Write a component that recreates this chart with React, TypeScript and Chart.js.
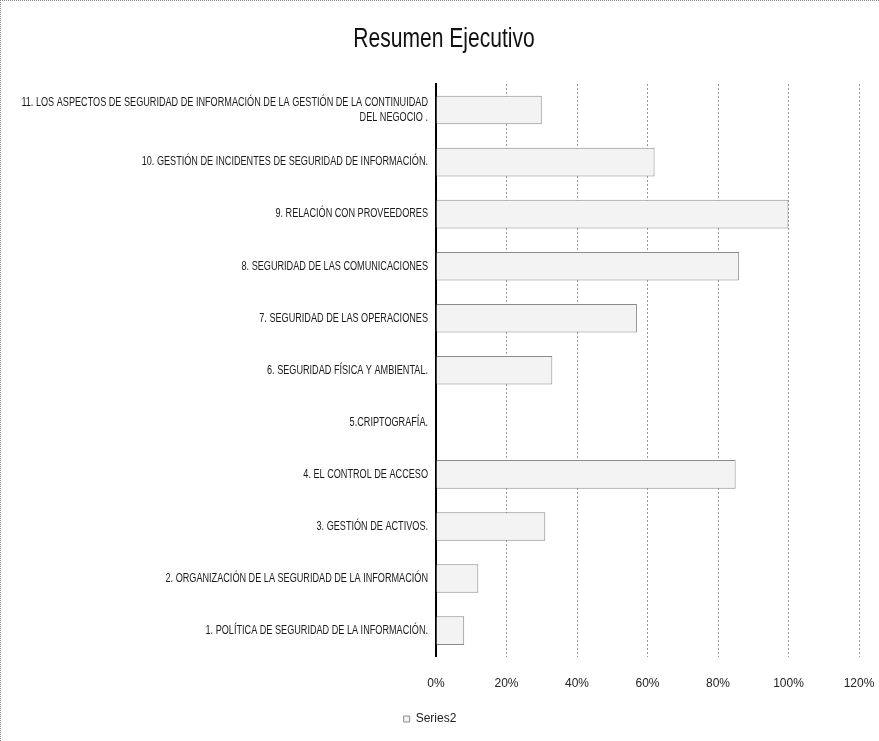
import React, { useEffect, useRef } from "react";
import { Chart, registerables } from "chart.js";

Chart.register(...registerables);

const categories: (string | string[])[] = [
  "1. POLÍTICA DE SEGURIDAD DE LA INFORMACIÓN.",
  "2. ORGANIZACIÓN DE LA SEGURIDAD DE LA INFORMACIÓN",
  "3. GESTIÓN DE ACTIVOS.",
  "4. EL CONTROL DE ACCESO",
  "5.CRIPTOGRAFÍA.",
  "6. SEGURIDAD FÍSICA Y AMBIENTAL.",
  "7. SEGURIDAD DE LAS OPERACIONES",
  "8. SEGURIDAD DE LAS COMUNICACIONES",
  "9. RELACIÓN CON PROVEEDORES",
  "10. GESTIÓN DE INCIDENTES DE SEGURIDAD DE INFORMACIÓN.",
  [
    "11. LOS ASPECTOS DE SEGURIDAD DE INFORMACIÓN DE LA GESTIÓN DE LA CONTINUIDAD",
    "DEL NEGOCIO .",
  ],
];

const series2: number[] = [8, 12, 31, 85, 0, 33, 57, 86, 100, 62, 30];

const xTicks: number[] = [0, 20, 40, 60, 80, 100, 120];

const seriesName = "Series2";
const titleText = "Resumen Ejecutivo";

const FONT = "'Liberation Sans', Arial, sans-serif";

// Draws condensed (horizontally squeezed) text for the title and category labels
const condensedText = {
  id: "condensedText",
  afterDraw(chart: any) {
    const ctx: CanvasRenderingContext2D = chart.ctx;
    const yScale = chart.scales.y;
    // title
    ctx.save();
    ctx.font = `27px ${FONT}`;
    ctx.fillStyle = "#111";
    ctx.textAlign = "center";
    ctx.textBaseline = "middle";
    ctx.translate(chart.width / 2 + 4, 39);
    ctx.scale(0.78, 1);
    ctx.fillText(titleText, 0, 0);
    ctx.restore();

    // category labels
    const labels = chart.data.labels as (string | string[])[];
    const right = yScale.right - 8;
    labels.forEach((lbl, i) => {
      const py = yScale.getPixelForTick(i);
      const lines = Array.isArray(lbl) ? lbl : [lbl];
      const lh = 15;
      lines.forEach((ln, j) => {
        const yy = py + (j - (lines.length - 1) / 2) * lh;
        ctx.save();
        ctx.font = `12px ${FONT}`;
        ctx.fillStyle = "#1a1a1a";
        ctx.textAlign = "right";
        ctx.textBaseline = "middle";
        ctx.translate(right, yy);
        ctx.scale(0.76, 1);
        ctx.fillText(ln, 0, 0);
        ctx.restore();
      });
    });
  },
};

export default function App() {
  const ref = useRef<HTMLCanvasElement | null>(null);

  useEffect(() => {
    if (!ref.current) return;
    const chart = new Chart(ref.current, {
      type: "bar",
      data: {
        labels: categories,
        datasets: [
          {
            label: seriesName,
            data: series2,
            backgroundColor: "#f3f3f3",
            borderColor: "#8a8a8a",
            borderWidth: 1,
            barPercentage: 0.55,
            categoryPercentage: 1,
          },
        ],
      },
      plugins: [condensedText],
      options: {
        indexAxis: "y",
        animation: false,
        responsive: false,
        maintainAspectRatio: false,
        layout: { padding: { left: 0, right: 20, top: 83, bottom: 6 } },
        plugins: {
          title: { display: false },
          legend: {
            display: true,
            position: "bottom",
            labels: {
              color: "#222",
              font: { family: FONT, size: 12 },
              boxWidth: 6,
              boxHeight: 6,
              padding: 2,
            },
          },
          tooltip: { enabled: false },
        },
        scales: {
          x: {
            type: "linear",
            min: 0,
            max: 120,
            afterBuildTicks: (scale: any) => {
              scale.ticks = xTicks.map((v) => ({ value: v }));
            },
            afterFit: (scale: any) => {
              scale.paddingRight = 0;
              scale.paddingLeft = 0;
            },
            ticks: {
              color: "#222",
              font: { family: FONT, size: 12 },
              padding: 20,
              callback: (v: any) => v + "%",
            },
            grid: { color: "#9a9a9a", drawTicks: false, lineWidth: 1 },
            border: { display: false, dash: [2, 2] },
          },
          y: {
            reverse: true,
            afterFit: (scale: any) => {
              scale.width = 435;
            },
            ticks: { display: false },
            grid: { display: false },
            border: { display: true, color: "#000", width: 2 },
          },
        },
      },
    });
    return () => chart.destroy();
  }, []);

  return (
    <div
      style={{
        position: "fixed",
        left: 0,
        top: 0,
        width: 879,
        height: 741,
        background: "#fff",
        boxSizing: "border-box",
        borderLeft: "1px dotted #888",
        borderTop: "1px dotted #888",
      }}
    >
      <canvas ref={ref} width={878} height={740} />
    </div>
  );
}
